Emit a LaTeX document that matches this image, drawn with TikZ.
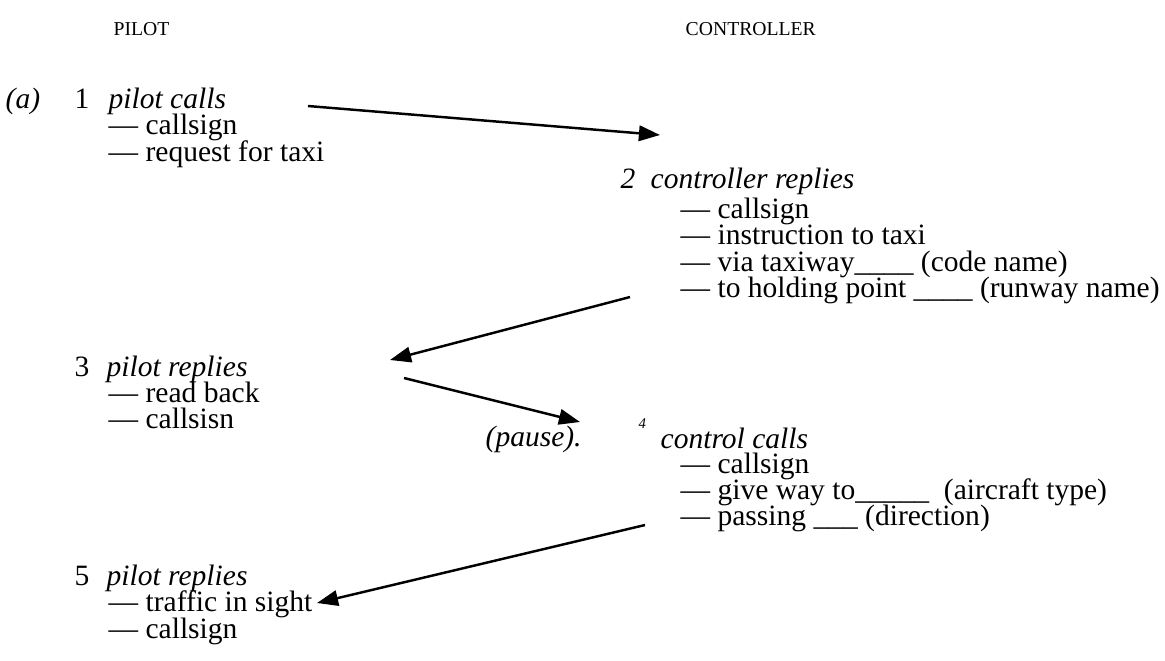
\documentclass[tikz,border=0pt]{standalone}
\usepackage{fontspec}
\setmainfont{Liberation Serif}
\usetikzlibrary{arrows.meta}

\tikzset{
  txt/.style={anchor=base west, inner sep=0pt, font=\fontsize{8.4}{8.6}\selectfont},
  head/.style={txt, font=\fontsize{8.4}{8.6}\selectfont\itshape},
  side/.style={anchor=base west, inner sep=0pt, font=\fontsize{5.6}{6}\selectfont},
  arr/.style={line width=0.7pt, -{Triangle[length=6pt,width=4.4pt]}}
}

\begin{document}
\begin{tikzpicture}
			\useasboundingbox (0,0) rectangle (11.65,-6.60);
			
			\node[side] (pilot) at (1.13,-0.35){PILOT};
			\node[side] (ctrl) at (6.85,-0.35){CONTROLLER};
			
			% 1 pilot calls
			\node[head] (a) at (0.05,-1.08){(a)};
			\node[txt] (n1) at (0.74,-1.08){1};
			\node[head] (h1) at (1.08,-1.08){pilot calls};
			\foreach \t [count=\i] in {callsign, request for taxi}
				\node[txt] (p1l\i) at (1.08,{-1.08-0.265*\i}){--- \t};
			
			% 2 controller replies
			\node[head] (n2) at (6.20,-1.88){2};
			\node[head] (h2) at (6.50,-1.88){controller replies};
			\foreach \t [count=\i] in {callsign, instruction to taxi, via taxiway\_\_\_\_ (code name), to holding point \_\_\_\_ (runway name)}
				\node[txt] (c2l\i) at (6.80,{-1.915-0.266*\i}){--- \t};
			
			% 3 pilot replies
			\node[txt] (n3) at (0.74,-3.76){3};
			\node[head] (h3) at (1.06,-3.76){pilot replies};
			\foreach \t [count=\i] in {read back, callsisn}
				\node[txt] (p3l\i) at (1.08,{-3.76-0.26*\i}){--- \t};
			
			% 4 control calls
			\node[head] (pause) at (4.85,-4.46){(pause).};
			\node[side, font=\fontsize{4.2}{5}\selectfont\itshape] (n4) at (6.38,-4.28){4};
			\node[head] (h4) at (6.60,-4.48){control calls};
			\foreach \t [count=\i] in {callsign, give way to\_\_\_\_\_ \ (aircraft type), passing \_\_\_ (direction)}
				\node[txt] (c4l\i) at (6.80,{-4.48-0.257*\i}){--- \t};
			
			% 5 pilot replies
			\node[txt] (n5) at (0.74,-5.85){5};
			\node[head] (h5) at (1.06,-5.85){pilot replies};
			\foreach \t [count=\i] in {traffic in sight, callsign}
				\node[txt] (p5l\i) at (1.08,{-5.85-0.265*\i}){--- \t};
			
			% arrows
			\coordinate (s1) at (3.08,-1.06);
			\coordinate (e1) at (6.60,-1.35);
			\coordinate (s2) at (6.30,-2.97);
			\coordinate (e2) at (3.90,-3.60);
			\coordinate (s3) at (4.04,-3.78);
			\coordinate (e3) at (5.80,-4.22);
			\coordinate (s4) at (6.45,-5.25);
			\coordinate (e4) at (3.17,-6.03);
			\draw[arr] (s1) -- (e1);
			\draw[arr] (s2) -- (e2);
			\draw[arr] (s3) -- (e3);
			\draw[arr] (s4) -- (e4);
		\end{tikzpicture}
\end{document}
